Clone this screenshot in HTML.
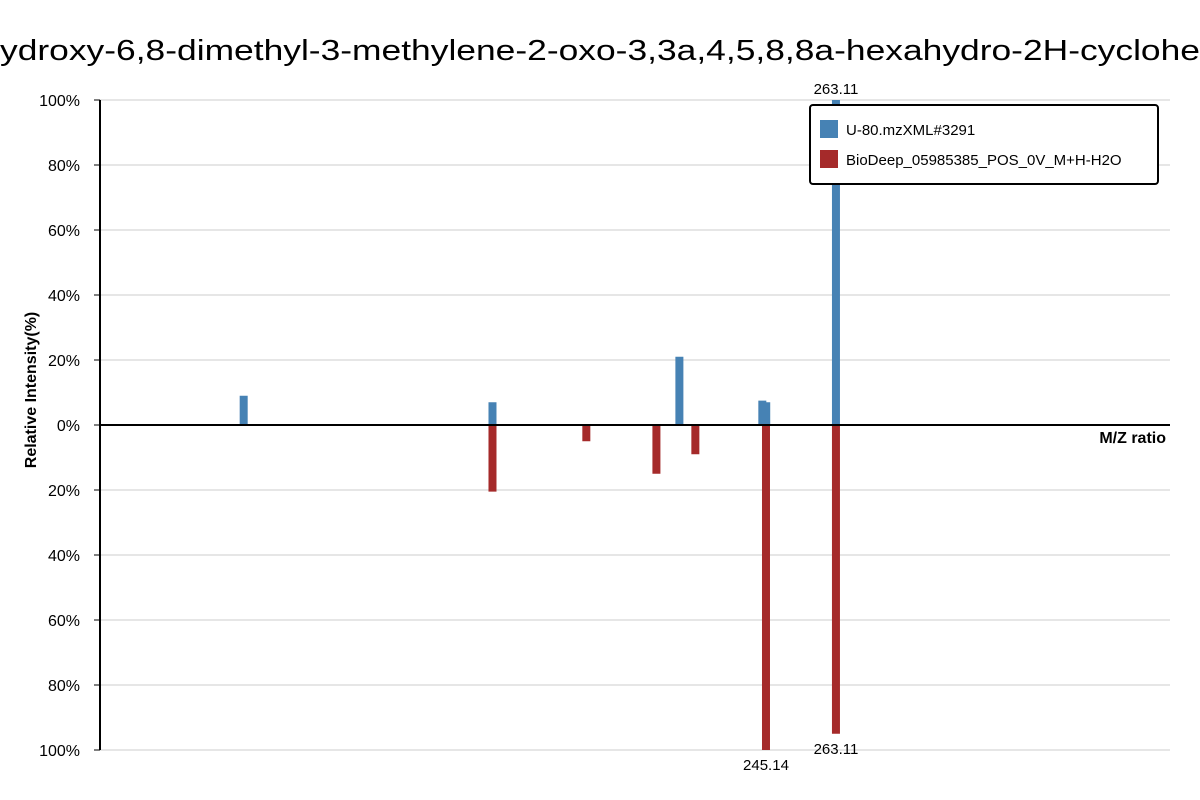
<!DOCTYPE html>
<html><head><meta charset="utf-8"><style>
body{margin:0;background:#fff;}
svg{display:block;font-family:"Liberation Sans",sans-serif;}
</style></head><body>
<svg id="chart" width="1200" height="800">
<g>
<text x="0" y="60" font-size="29" text-anchor="end" fill="#000">4-h</text>
<text x="0" y="60" font-size="29" fill="#000" textLength="1200" lengthAdjust="spacingAndGlyphs">ydroxy-6,8-dimethyl-3-methylene-2-oxo-3,3a,4,5,8,8a-hexahydro-2H-cyclohe</text>
<text x="1200" y="60" font-size="29" fill="#000">pta[b]furan</text>
</g>
<g id="grid"></g>
<g id="bars"></g>
<g id="axes"></g>
<text transform="translate(36,390) rotate(-90)" text-anchor="middle" font-size="16" font-weight="bold">Relative Intensity(%)</text>
<text x="1166" y="443" text-anchor="end" font-size="16" font-weight="bold">M/Z ratio</text>
<g>
<rect x="810" y="105" width="348" height="79" rx="3" fill="#fff" stroke="#000" stroke-width="2"/>
<rect x="820" y="120" width="18" height="18" fill="#4682b4"/>
<text x="846" y="135" font-size="15">U-80.mzXML#3291</text>
<rect x="820" y="150" width="18" height="18" fill="#a52a2a"/>
<text x="846" y="165" font-size="15">BioDeep_05985385_POS_0V_M+H-H2O</text>
</g>
</svg>
<script>
const sampleMz=[111.0,174.9,222.9,244.2,245.2,263.11];
const sampleInt=[9,7,21,7.5,7,100];
const refMz=[174.9,199.0,217.0,227.0,245.14,263.11];
const refInt=[20.5,5,15,9,100,95];
const yTicks=[100,80,60,40,20,0,20,40,60,80,100];
const labelledSample=[263.11];
const labelledRef=[245.14,263.11];

const ns="http://www.w3.org/2000/svg";
const X0=100,X1=1170,Y0=425,K=3.25,mzMin=74.1,mzMax=348.9;
const xs=m=>X0+(m-mzMin)/(mzMax-mzMin)*(X1-X0);
const ys=v=>Y0-v*K;
function mk(tag,attrs,parent){const e=document.createElementNS(ns,tag);for(const k in attrs)e.setAttribute(k,attrs[k]);parent.appendChild(e);return e;}
const grid=document.getElementById('grid'),bars=document.getElementById('bars'),axes=document.getElementById('axes');
yTicks.forEach((t,i)=>{
  const v=i<5?t:(i===5?0:-t);
  const y=ys(v);
  const l=mk('line',{x1:X0,x2:X1,y1:y,y2:y,stroke:'#ddd','stroke-width':1.5},grid);
  
  
  const tk=mk('line',{x1:X0-6,x2:X0,y1:y,y2:y,stroke:'#000'},axes);
  
  
  const tx=mk('text',{x:80,y:y+6,'text-anchor':'end','font-size':16},axes);
  tx.textContent=t+'%';
  
  
});
const ya=mk('line',{x1:X0,x2:X0,y1:ys(100),y2:ys(-100),stroke:'#000','stroke-width':2},axes);


const xa=mk('line',{x1:X0,x2:X1,y1:Y0,y2:Y0,stroke:'#000','stroke-width':2},axes);


sampleMz.forEach((m,i)=>{
  const r=mk('rect',{x:xs(m)-4,y:ys(sampleInt[i]),width:8,height:sampleInt[i]*K,fill:'#4682b4'},bars);
  
  
  if(labelledSample.includes(m)){const t=mk('text',{x:xs(m),y:ys(sampleInt[i])-6,'text-anchor':'middle','font-size':15},bars);t.textContent=m.toFixed(2);
  
  }
});
refMz.forEach((m,i)=>{
  const r=mk('rect',{x:xs(m)-4,y:Y0,width:8,height:refInt[i]*K,fill:'#a52a2a'},bars);
  
  
  if(labelledRef.includes(m)){const t=mk('text',{x:xs(m),y:ys(-refInt[i])+20,'text-anchor':'middle','font-size':15},bars);t.textContent=m.toFixed(2);
  
  }
});
</script>
</body></html>
